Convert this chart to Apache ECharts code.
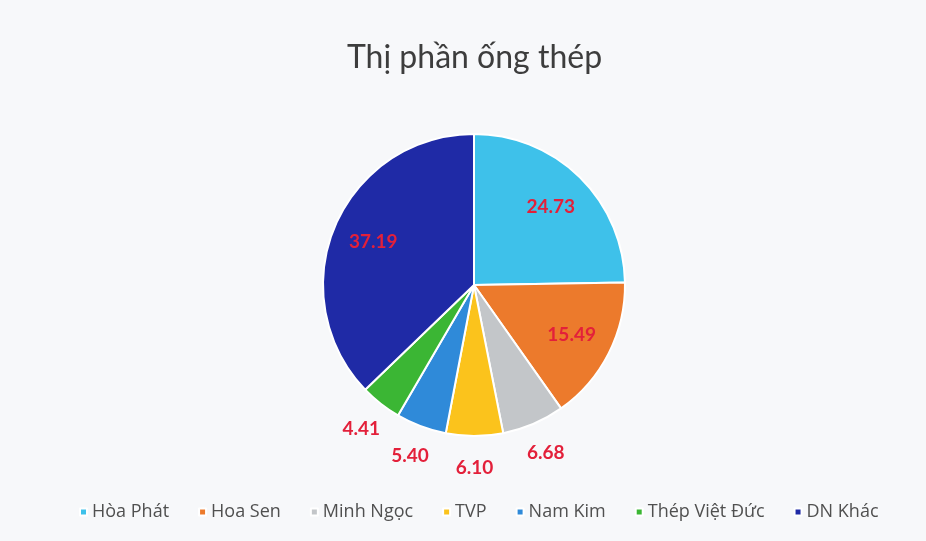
<!DOCTYPE html>
<html>
<head>
<meta charset="utf-8">
<script src="https://cdn.jsdelivr.net/npm/echarts@6/dist/echarts.min.js"></script>
<style>
html, body { margin: 0; padding: 0; background: #f7f8fa; }
#chart { width: 926px; height: 541px; }
</style>
</head>
<body>
<div id="chart"></div>
<script>
'use strict';
const names = ["Hòa Phát", "Hoa Sen", "Minh Ngọc", "TVP", "Nam Kim", "Thép Việt Đức", "DN Khác"];
const shares = [24.73, 15.49, 6.68, 6.10, 5.40, 4.41, 37.19];
const colors = ["#3ec1ea", "#ec7a2c", "#c3c6c9", "#fbc31c", "#2f8ad9", "#3bb634", "#1f2aa6"];
const insideNames = ["Hòa Phát", "Hoa Sen", "DN Khác"];

const font = "Lato, 'Open Sans', sans-serif";
const center = [474, 285];

function pieData(labelled) {
    return names.map((name, i) => {
        return {
            name: name,
            value: shares[i],
            label: { show: labelled(name) }
        }
    });
}

const labelStyle = {
    position: 'inside',
    formatter: p => p.value.toFixed(2),
    color: '#e3203a',
    fontSize: 19,
    fontWeight: 'bold',
    fontFamily: font
};

const chart = echarts.init(document.getElementById('chart'));
chart.setOption({
    backgroundColor: '#f7f8fa',
    animation: false,
    color: colors,
    title: {
        text: 'Thị phần ống thép',
        left: 342,
        top: 37,
        textStyle: {
            fontFamily: font,
            fontSize: 32,
            fontWeight: 'normal',
            color: '#3d3d3d'
        }
    },
    legend: {
        data: names,
        bottom: 15,
        left: 74,
        icon: 'rect',
        itemWidth: 7,
        itemHeight: 7,
        itemGap: 29,
        textStyle: {
            fontFamily: "'Open Sans', sans-serif",
            fontSize: 18,
            color: '#505050'
        }
    },
    series: [{
        type: 'pie',
        center: center,
        radius: [0, 151],
        startAngle: 90,
        clockwise: true,
        silent: true,
        label: { show: false },
        labelLine: { show: false },
        itemStyle: { borderColor: '#ffffff', borderWidth: 2 },
        data: pieData(() => false)
    }, {
        // inner labels of the large slices
        type: 'pie',
        center: center,
        radius: [62, 151],
        startAngle: 90,
        silent: true,
        itemStyle: { color: 'transparent' },
        label: labelStyle,
        labelLine: { show: false },
        data: pieData(n => insideNames.includes(n))
    }, {
        // outer labels of the small slices
        type: 'pie',
        center: center,
        radius: [151, 208],
        startAngle: 90,
        silent: true,
        itemStyle: { color: 'transparent' },
        label: labelStyle,
        labelLine: { show: false },
        data: pieData(n => !insideNames.includes(n))
    }]
});
</script>
</body>
</html>
